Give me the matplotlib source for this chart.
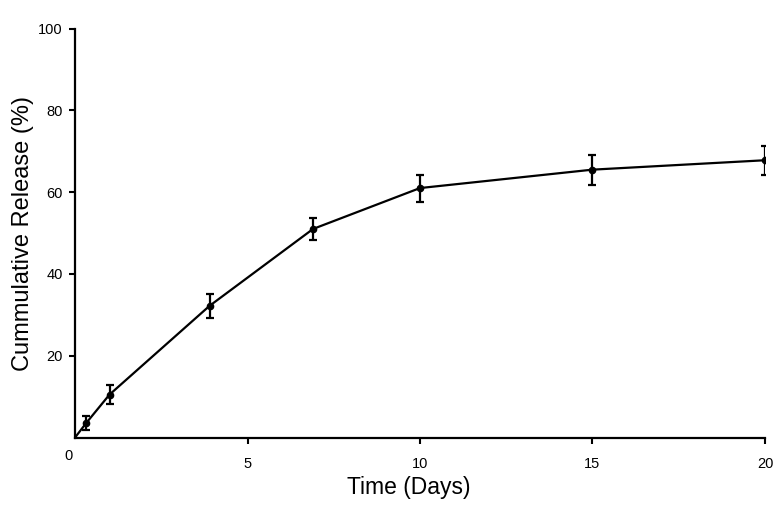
import matplotlib.pyplot as plt

# Kumulative Freisetzung ueber die Zeit
days = [0, 0.33, 1, 3.9, 6.9, 10, 15, 20]
release = [0, 3.6, 10.5, 32.2, 51.0, 61.0, 65.5, 67.8]
err = [0, 1.7, 2.3, 2.9, 2.8, 3.3, 3.7, 3.6]

xticks = [5, 10, 15, 20]
yticks = [20, 40, 60, 80, 100]

plt.rcParams['font.family'] = ['Liberation Sans', 'DejaVu Sans']

fig = plt.figure(figsize=(7.84, 5.11), dpi=100)
ax = fig.add_axes([0.0957, 0.1438, 0.88, 0.8003])

ax.plot(days, release, color='black', lw=1.6, zorder=2)
ax.errorbar(days[1:], release[1:], yerr=err[1:], fmt='o', color='black',
            ms=4.5, elinewidth=1.6, capsize=2.6, capthick=1.6, zorder=3)

ax.set_xlim(0, 20)
ax.set_ylim(0, 100)
ax.set_xticks(xticks)
ax.set_yticks(yticks)
ax.tick_params(axis='x', direction='out', length=4, width=1.5, labelsize=10.5, pad=10)
ax.tick_params(axis='y', direction='out', length=4, width=1.5, labelsize=10.5, pad=5)

for side in ['top', 'right']:
    ax.spines[side].set_visible(False)
for side in ['left', 'bottom']:
    ax.spines[side].set_linewidth(1.6)

# Ursprung-Beschriftung, leicht versetzt wie im Original
ax.annotate('0', xy=(0, 0), xytext=(-7, -18), textcoords='offset pixels',
            ha='center', va='center', fontsize=10.5, annotation_clip=False)

ax.set_xlabel('Time (Days)', fontsize=16.5)
ax.xaxis.set_label_coords(0.484, -0.093)
ax.set_ylabel('Cummulative Release (%)', fontsize=17, labelpad=3)

plt.savefig('out.png', dpi=100)
